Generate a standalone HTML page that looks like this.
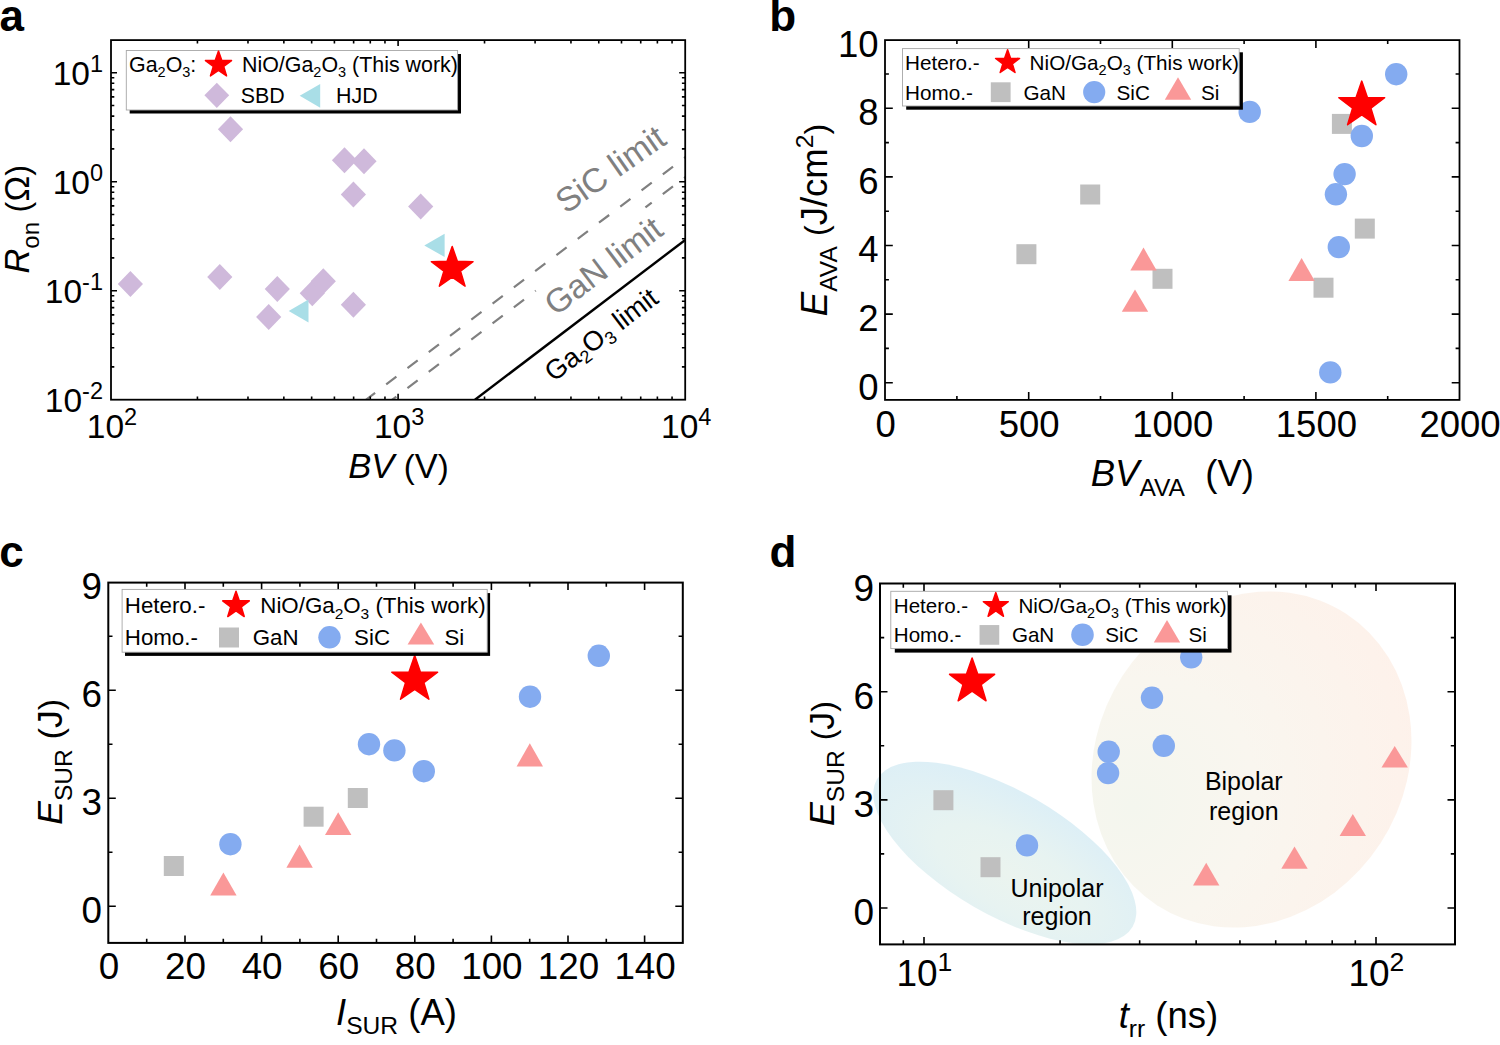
<!DOCTYPE html>
<html><head><meta charset="utf-8"><style>
html,body{margin:0;padding:0;background:#fff;width:1500px;height:1045px;overflow:hidden;}
svg{display:block;}
text{font-family:"Liberation Sans", sans-serif;}
</style></head><body>
<svg width="1500" height="1045" viewBox="0 0 1500 1045">
<rect width="1500" height="1045" fill="#fff"/>
<defs><clipPath id="cpa"><rect x="111" y="40.1" width="574.2" height="359.6"/></clipPath></defs>
<g clip-path="url(#cpa)">
<line x1="475" y1="399.7" x2="685.2" y2="240" stroke="#000" stroke-width="2.4"/>
<line x1="342.11" y1="417.84" x2="690.2" y2="153.47" stroke="#808080" stroke-width="2.2" stroke-dasharray="12.8 13.92" stroke-dashoffset="24.79"/>
<line x1="368.31" y1="417.84" x2="690.2" y2="173.37" stroke="#808080" stroke-width="2.2" stroke-dasharray="12.8 13.92" stroke-dashoffset="4.29"/>
</g>
<text x="566" y="214.5" font-size="34" text-anchor="start" fill="#808080" transform="rotate(-35 566 214.5)"><tspan>SiC&#160;limit</tspan></text>
<rect x="555.5" y="280.8" width="137.7" height="44" fill="#fff" transform="rotate(-37.2 555.5 316.8)"/>
<text x="555.5" y="316.8" font-size="33.5" text-anchor="start" fill="#808080" transform="rotate(-37.2 555.5 316.8)"><tspan>GaN&#160;limit</tspan></text>
<text x="553.5" y="382.5" font-size="27.3" text-anchor="start" fill="#000" transform="rotate(-37.2 553.5 382.5)"><tspan>Ga</tspan><tspan dy="5.2" font-size="18">2</tspan><tspan dy="-5.2">O</tspan><tspan dy="5.2" font-size="18">3</tspan><tspan dy="-5.2">&#160;limit</tspan></text>
<rect x="111" y="40.1" width="574.2" height="359.6" fill="none" stroke="#000" stroke-width="1.8"/>
<path d="M398.1 399.7v-6M398.1 40.1v6" stroke="#000" stroke-width="1.6" fill="none"/>
<path d="M197.43 399.7v-3.3M197.43 40.1v3.3M247.98 399.7v-3.3M247.98 40.1v3.3M283.85 399.7v-3.3M283.85 40.1v3.3M311.67 399.7v-3.3M311.67 40.1v3.3M334.41 399.7v-3.3M334.41 40.1v3.3M353.63 399.7v-3.3M353.63 40.1v3.3M370.28 399.7v-3.3M370.28 40.1v3.3M384.96 399.7v-3.3M384.96 40.1v3.3M484.53 399.7v-3.3M484.53 40.1v3.3M535.08 399.7v-3.3M535.08 40.1v3.3M570.95 399.7v-3.3M570.95 40.1v3.3M598.77 399.7v-3.3M598.77 40.1v3.3M621.51 399.7v-3.3M621.51 40.1v3.3M640.73 399.7v-3.3M640.73 40.1v3.3M657.38 399.7v-3.3M657.38 40.1v3.3M672.06 399.7v-3.3M672.06 40.1v3.3" stroke="#000" stroke-width="1.6" fill="none"/>
<path d="M111 290.7h6M685.2 290.7h-6M111 181.7h6M685.2 181.7h-6M111 72.7h6M685.2 72.7h-6" stroke="#000" stroke-width="1.6" fill="none"/>
<path d="M111 366.89h3.3M685.2 366.89h-3.3M111 347.69h3.3M685.2 347.69h-3.3M111 334.08h3.3M685.2 334.08h-3.3M111 323.51h3.3M685.2 323.51h-3.3M111 314.88h3.3M685.2 314.88h-3.3M111 307.58h3.3M685.2 307.58h-3.3M111 301.26h3.3M685.2 301.26h-3.3M111 295.69h3.3M685.2 295.69h-3.3M111 257.89h3.3M685.2 257.89h-3.3M111 238.69h3.3M685.2 238.69h-3.3M111 225.08h3.3M685.2 225.08h-3.3M111 214.51h3.3M685.2 214.51h-3.3M111 205.88h3.3M685.2 205.88h-3.3M111 198.58h3.3M685.2 198.58h-3.3M111 192.26h3.3M685.2 192.26h-3.3M111 186.69h3.3M685.2 186.69h-3.3M111 148.89h3.3M685.2 148.89h-3.3M111 129.69h3.3M685.2 129.69h-3.3M111 116.08h3.3M685.2 116.08h-3.3M111 105.51h3.3M685.2 105.51h-3.3M111 96.88h3.3M685.2 96.88h-3.3M111 89.58h3.3M685.2 89.58h-3.3M111 83.26h3.3M685.2 83.26h-3.3M111 77.69h3.3M685.2 77.69h-3.3" stroke="#000" stroke-width="1.6" fill="none"/>
<text x="112" y="438" font-size="33.5" text-anchor="middle" fill="#000"><tspan>10</tspan><tspan dy="-13.4" font-size="23.5">2</tspan></text>
<text x="399.1" y="438" font-size="33.5" text-anchor="middle" fill="#000"><tspan>10</tspan><tspan dy="-13.4" font-size="23.5">3</tspan></text>
<text x="686.2" y="438" font-size="33.5" text-anchor="middle" fill="#000"><tspan>10</tspan><tspan dy="-13.4" font-size="23.5">4</tspan></text>
<text x="103" y="412.1" font-size="33.5" text-anchor="end" fill="#000"><tspan>10</tspan><tspan dy="-13.4" font-size="23.5">-2</tspan></text>
<text x="103" y="303.1" font-size="33.5" text-anchor="end" fill="#000"><tspan>10</tspan><tspan dy="-13.4" font-size="23.5">-1</tspan></text>
<text x="103" y="194.1" font-size="33.5" text-anchor="end" fill="#000"><tspan>10</tspan><tspan dy="-13.4" font-size="23.5">0</tspan></text>
<text x="103" y="85.1" font-size="33.5" text-anchor="end" fill="#000"><tspan>10</tspan><tspan dy="-13.4" font-size="23.5">1</tspan></text>
<text x="398.5" y="477.8" font-size="34.5" text-anchor="middle" fill="#000"><tspan font-style="italic">BV</tspan><tspan>&#160;</tspan><tspan dy="0" font-size="33">(</tspan><tspan>V</tspan><tspan dy="0" font-size="33">)</tspan></text>
<text x="29.4" y="219.3" font-size="34.5" text-anchor="middle" fill="#000" transform="rotate(-90 29.4 219.3)"><tspan font-style="italic">R</tspan><tspan dy="9.4" font-size="24">on</tspan><tspan dy="-9.4">&#160;</tspan><tspan dy="0" font-size="32.4">(</tspan><tspan>Ω</tspan><tspan dy="0" font-size="32.4">)</tspan></text>
<polygon points="230.5,116.2 243.1,129.2 230.5,142.2 217.9,129.2" fill="#CFB9DB"/>
<polygon points="130.4,270.9 143,283.9 130.4,296.9 117.8,283.9" fill="#CFB9DB"/>
<polygon points="219.8,264.1 232.4,277.1 219.8,290.1 207.2,277.1" fill="#CFB9DB"/>
<polygon points="277.3,276 289.9,289 277.3,302 264.7,289" fill="#CFB9DB"/>
<polygon points="268.7,304.1 281.3,317.1 268.7,330.1 256.1,317.1" fill="#CFB9DB"/>
<polygon points="312.3,280.3 324.9,293.3 312.3,306.3 299.7,293.3" fill="#CFB9DB"/>
<polygon points="323.3,268.3 335.9,281.3 323.3,294.3 310.7,281.3" fill="#CFB9DB"/>
<polygon points="344.5,147.3 357.1,160.3 344.5,173.3 331.9,160.3" fill="#CFB9DB"/>
<polygon points="364,148.3 376.6,161.3 364,174.3 351.4,161.3" fill="#CFB9DB"/>
<polygon points="353.4,181.5 366,194.5 353.4,207.5 340.8,194.5" fill="#CFB9DB"/>
<polygon points="420.7,193.4 433.3,206.4 420.7,219.4 408.1,206.4" fill="#CFB9DB"/>
<polygon points="353.4,291.7 366,304.7 353.4,317.7 340.8,304.7" fill="#CFB9DB"/>
<polygon points="288.7,311 308.5,299.6 308.5,322.4" fill="#A9DEE7"/>
<polygon points="424.3,245.4 444.6,233.7 444.6,257" fill="#A9DEE7"/>
<polygon points="452.2,246.5 457.35,261.31 473.03,261.63 460.53,271.11 465.07,286.12 452.2,277.16 439.33,286.12 443.87,271.11 431.37,261.63 447.05,261.31" fill="#FF0000" stroke="#FF0000" stroke-width="1.5" stroke-linejoin="round"/>
<rect x="129.7" y="54" width="331.3" height="59.5" fill="#000"/>
<rect x="126.3" y="50.5" width="331.3" height="59.5" fill="#fff" stroke="#A6A6A6" stroke-width="0.9"/>
<text x="129" y="71.5" font-size="21.4" text-anchor="start" fill="#000"><tspan>Ga</tspan><tspan dy="5.5" font-size="14.5">2</tspan><tspan dy="-5.5">O</tspan><tspan dy="5.5" font-size="14.5">3</tspan><tspan dy="-5.5">:</tspan></text>
<polygon points="218.5,51.1 221.72,60.37 231.53,60.57 223.71,66.49 226.55,75.88 218.5,70.28 210.45,75.88 213.29,66.49 205.47,60.57 215.28,60.37" fill="#FF0000" stroke="#FF0000" stroke-width="1.5" stroke-linejoin="round"/>
<text x="242" y="71.5" font-size="21.4" text-anchor="start" fill="#000"><tspan>NiO/Ga</tspan><tspan dy="5.5" font-size="14.5">2</tspan><tspan dy="-5.5">O</tspan><tspan dy="5.5" font-size="14.5">3</tspan><tspan dy="-5.5">&#160;(This&#160;work)</tspan></text>
<polygon points="216.8,82.7 229.2,95.3 216.8,107.9 204.4,95.3" fill="#CFB9DB"/>
<text x="240.8" y="102.5" font-size="21.4" text-anchor="start" fill="#000"><tspan>SBD</tspan></text>
<polygon points="299.7,95.8 320.2,83.9 320.2,107.7" fill="#A9DEE7"/>
<text x="336" y="102.5" font-size="21.4" text-anchor="start" fill="#000"><tspan>HJD</tspan></text>
<rect x="885" y="40.1" width="574.5" height="359.8" fill="none" stroke="#000" stroke-width="1.8"/>
<path d="M1028.7 399.9v-7.8M1028.7 40.1v7.8M1172.3 399.9v-7.8M1172.3 40.1v7.8M1315.9 399.9v-7.8M1315.9 40.1v7.8" stroke="#000" stroke-width="1.6" fill="none"/>
<path d="M956.9 399.9v-3.9M956.9 40.1v3.9M1100.5 399.9v-3.9M1100.5 40.1v3.9M1244.1 399.9v-3.9M1244.1 40.1v3.9M1387.7 399.9v-3.9M1387.7 40.1v3.9" stroke="#000" stroke-width="1.6" fill="none"/>
<path d="M885 382.7h7.8M1459.5 382.7h-7.8M885 314.1h7.8M1459.5 314.1h-7.8M885 245.5h7.8M1459.5 245.5h-7.8M885 176.9h7.8M1459.5 176.9h-7.8M885 108.3h7.8M1459.5 108.3h-7.8" stroke="#000" stroke-width="1.6" fill="none"/>
<path d="M885 348.4h3.9M1459.5 348.4h-3.9M885 279.8h3.9M1459.5 279.8h-3.9M885 211.2h3.9M1459.5 211.2h-3.9M885 142.6h3.9M1459.5 142.6h-3.9M885 74h3.9M1459.5 74h-3.9" stroke="#000" stroke-width="1.6" fill="none"/>
<text x="885.6" y="436.7" font-size="36.5" text-anchor="middle" fill="#000"><tspan>0</tspan></text>
<text x="1029.2" y="436.7" font-size="36.5" text-anchor="middle" fill="#000"><tspan>500</tspan></text>
<text x="1172.8" y="436.7" font-size="36.5" text-anchor="middle" fill="#000"><tspan>1000</tspan></text>
<text x="1316.4" y="436.7" font-size="36.5" text-anchor="middle" fill="#000"><tspan>1500</tspan></text>
<text x="1460" y="436.7" font-size="36.5" text-anchor="middle" fill="#000"><tspan>2000</tspan></text>
<text x="878.5" y="399.5" font-size="36.5" text-anchor="end" fill="#000"><tspan>0</tspan></text>
<text x="878.5" y="330.9" font-size="36.5" text-anchor="end" fill="#000"><tspan>2</tspan></text>
<text x="878.5" y="262.3" font-size="36.5" text-anchor="end" fill="#000"><tspan>4</tspan></text>
<text x="878.5" y="193.7" font-size="36.5" text-anchor="end" fill="#000"><tspan>6</tspan></text>
<text x="878.5" y="125.1" font-size="36.5" text-anchor="end" fill="#000"><tspan>8</tspan></text>
<text x="878.5" y="56.5" font-size="36.5" text-anchor="end" fill="#000"><tspan>10</tspan></text>
<text x="1172.3" y="486" font-size="36.5" text-anchor="middle" fill="#000"><tspan font-style="italic">BV</tspan><tspan dy="9.7" font-size="24.6">AVA</tspan><tspan dy="-9.7">&#160;&#160;(V)</tspan></text>
<text x="826.8" y="220" font-size="36.5" text-anchor="middle" fill="#000" transform="rotate(-90 826.8 220)"><tspan font-style="italic">E</tspan><tspan dy="10" font-size="24.6">AVA</tspan><tspan dy="-10">&#160;</tspan><tspan dy="0" font-size="32.2">(</tspan><tspan>J/cm</tspan><tspan dy="-13.5" font-size="24.6">2</tspan><tspan dy="13.5" font-size="32.2">)</tspan></text>
<rect x="1080.2" y="184.5" width="20" height="20" fill="#BFBFBF"/>
<rect x="1016.4" y="244.2" width="20" height="20" fill="#BFBFBF"/>
<rect x="1152.5" y="268.8" width="20" height="20" fill="#BFBFBF"/>
<rect x="1331.9" y="113.9" width="20" height="20" fill="#BFBFBF"/>
<rect x="1354.8" y="218.6" width="20" height="20" fill="#BFBFBF"/>
<rect x="1313.5" y="277.7" width="20" height="20" fill="#BFBFBF"/>
<polygon points="1143.5,247.6 1130.3,270.6 1156.7,270.6" fill="#FA9898"/>
<polygon points="1135,289.4 1121.8,311.8 1148.2,311.8" fill="#FA9898"/>
<polygon points="1301.6,257.9 1288.4,280.9 1314.8,280.9" fill="#FA9898"/>
<circle cx="1249.7" cy="111.9" r="11.2" fill="#84ABF0"/>
<circle cx="1396.2" cy="74.2" r="11.2" fill="#84ABF0"/>
<circle cx="1361.8" cy="136" r="11.2" fill="#84ABF0"/>
<circle cx="1344.6" cy="174.1" r="11.2" fill="#84ABF0"/>
<circle cx="1335.9" cy="194.3" r="11.2" fill="#84ABF0"/>
<circle cx="1338.8" cy="247.1" r="11.2" fill="#84ABF0"/>
<circle cx="1330.3" cy="372.4" r="11.2" fill="#84ABF0"/>
<polygon points="1361.75,81.1 1367.42,97.4 1384.67,97.75 1370.92,108.18 1375.92,124.7 1361.75,114.84 1347.58,124.7 1352.58,108.18 1338.83,97.75 1356.08,97.4" fill="#FF0000" stroke="#FF0000" stroke-width="1.5" stroke-linejoin="round"/>
<rect x="906.2" y="52.3" width="336.7" height="57.4" fill="#000"/>
<rect x="902.5" y="48.6" width="336.7" height="57.4" fill="#fff" stroke="#A6A6A6" stroke-width="0.9"/>
<text x="905" y="69.9" font-size="20.7" text-anchor="start" fill="#000"><tspan>Hetero.-</tspan></text>
<polygon points="1007.6,49.7 1010.56,58.22 1019.58,58.41 1012.39,63.86 1015.01,72.49 1007.6,67.34 1000.19,72.49 1002.81,63.86 995.62,58.41 1004.64,58.22" fill="#FF0000" stroke="#FF0000" stroke-width="1.5" stroke-linejoin="round"/>
<text x="1029.6" y="69.9" font-size="20.7" text-anchor="start" fill="#000"><tspan>NiO/Ga</tspan><tspan dy="5.5" font-size="14.5">2</tspan><tspan dy="-5.5">O</tspan><tspan dy="5.5" font-size="14.5">3</tspan><tspan dy="-5.5">&#160;(This&#160;work)</tspan></text>
<text x="905" y="99.9" font-size="20.7" text-anchor="start" fill="#000"><tspan>Homo.-</tspan></text>
<rect x="990.8" y="82.3" width="19.8" height="19.8" fill="#BFBFBF"/>
<text x="1023.4" y="99.9" font-size="20.7" text-anchor="start" fill="#000"><tspan>GaN</tspan></text>
<circle cx="1094.2" cy="92.1" r="11.1" fill="#84ABF0"/>
<text x="1116.5" y="99.9" font-size="20.7" text-anchor="start" fill="#000"><tspan>SiC</tspan></text>
<polygon points="1178,77.2 1164.8,99.7 1191.2,99.7" fill="#FA9898"/>
<text x="1201" y="99.9" font-size="20.7" text-anchor="start" fill="#000"><tspan>Si</tspan></text>
<rect x="108.3" y="582.6" width="574.5" height="360.3" fill="none" stroke="#000" stroke-width="2"/>
<path d="M185 942.9v-7.5M185 582.6v7.5M261.6 942.9v-7.5M261.6 582.6v7.5M338.2 942.9v-7.5M338.2 582.6v7.5M414.8 942.9v-7.5M414.8 582.6v7.5M491.4 942.9v-7.5M491.4 582.6v7.5M568 942.9v-7.5M568 582.6v7.5M644.6 942.9v-7.5M644.6 582.6v7.5" stroke="#000" stroke-width="1.6" fill="none"/>
<path d="M146.7 942.9v-4.2M146.7 582.6v4.2M223.3 942.9v-4.2M223.3 582.6v4.2M299.9 942.9v-4.2M299.9 582.6v4.2M376.5 942.9v-4.2M376.5 582.6v4.2M453.1 942.9v-4.2M453.1 582.6v4.2M529.7 942.9v-4.2M529.7 582.6v4.2M606.3 942.9v-4.2M606.3 582.6v4.2" stroke="#000" stroke-width="1.6" fill="none"/>
<path d="M108.3 906.2h7.5M682.8 906.2h-7.5M108.3 798.2h7.5M682.8 798.2h-7.5M108.3 690.2h7.5M682.8 690.2h-7.5" stroke="#000" stroke-width="1.6" fill="none"/>
<path d="M108.3 852.2h4.2M682.8 852.2h-4.2M108.3 744.2h4.2M682.8 744.2h-4.2M108.3 636.2h4.2M682.8 636.2h-4.2" stroke="#000" stroke-width="1.6" fill="none"/>
<text x="108.9" y="978.5" font-size="36.8" text-anchor="middle" fill="#000"><tspan>0</tspan></text>
<text x="185.5" y="978.5" font-size="36.8" text-anchor="middle" fill="#000"><tspan>20</tspan></text>
<text x="262.1" y="978.5" font-size="36.8" text-anchor="middle" fill="#000"><tspan>40</tspan></text>
<text x="338.7" y="978.5" font-size="36.8" text-anchor="middle" fill="#000"><tspan>60</tspan></text>
<text x="415.3" y="978.5" font-size="36.8" text-anchor="middle" fill="#000"><tspan>80</tspan></text>
<text x="491.9" y="978.5" font-size="36.8" text-anchor="middle" fill="#000"><tspan>100</tspan></text>
<text x="568.5" y="978.5" font-size="36.8" text-anchor="middle" fill="#000"><tspan>120</tspan></text>
<text x="645.1" y="978.5" font-size="36.8" text-anchor="middle" fill="#000"><tspan>140</tspan></text>
<text x="102" y="922.9" font-size="36.8" text-anchor="end" fill="#000"><tspan>0</tspan></text>
<text x="102" y="814.9" font-size="36.8" text-anchor="end" fill="#000"><tspan>3</tspan></text>
<text x="102" y="706.9" font-size="36.8" text-anchor="end" fill="#000"><tspan>6</tspan></text>
<text x="102" y="598.9" font-size="36.8" text-anchor="end" fill="#000"><tspan>9</tspan></text>
<text x="396.5" y="1024.8" font-size="36.5" text-anchor="middle" fill="#000"><tspan font-style="italic">I</tspan><tspan dy="9.4" font-size="24.6">SUR</tspan><tspan dy="-9.4">&#160;(A)</tspan></text>
<text x="62.3" y="761.8" font-size="35.6" text-anchor="middle" fill="#000" transform="rotate(-90 62.3 761.8)"><tspan font-style="italic">E</tspan><tspan dy="9.4" font-size="24.6">SUR</tspan><tspan dy="-9.4">&#160;</tspan><tspan dy="0" font-size="34">(</tspan><tspan>J</tspan><tspan dy="0" font-size="34">)</tspan></text>
<rect x="163.8" y="856" width="20" height="20" fill="#BFBFBF"/>
<rect x="303.6" y="806.7" width="20" height="20" fill="#BFBFBF"/>
<rect x="347.8" y="788" width="20" height="20" fill="#BFBFBF"/>
<polygon points="223.4,872.4 210.2,895.4 236.6,895.4" fill="#FA9898"/>
<polygon points="299.6,844.6 286.4,867.8 312.8,867.8" fill="#FA9898"/>
<polygon points="338.2,812.2 325,835 351.4,835" fill="#FA9898"/>
<polygon points="529.8,743.2 516.6,766.4 543,766.4" fill="#FA9898"/>
<circle cx="230.4" cy="844.2" r="11.2" fill="#84ABF0"/>
<circle cx="369" cy="744.2" r="11.2" fill="#84ABF0"/>
<circle cx="394.4" cy="750.4" r="11.2" fill="#84ABF0"/>
<circle cx="423.8" cy="771.2" r="11.2" fill="#84ABF0"/>
<circle cx="530" cy="696.7" r="11.2" fill="#84ABF0"/>
<circle cx="598.8" cy="655.8" r="11.2" fill="#84ABF0"/>
<polygon points="414.7,655.6 420.37,671.9 437.62,672.25 423.87,682.68 428.87,699.2 414.7,689.34 400.53,699.2 405.53,682.68 391.78,672.25 409.03,671.9" fill="#FF0000" stroke="#FF0000" stroke-width="1.5" stroke-linejoin="round"/>
<rect x="125" y="593.1" width="365.1" height="62.8" fill="#000"/>
<rect x="122.1" y="589.4" width="365.1" height="62.8" fill="#fff" stroke="#A6A6A6" stroke-width="0.9"/>
<text x="124.8" y="612.9" font-size="22.3" text-anchor="start" fill="#000"><tspan>Hetero.-</tspan></text>
<polygon points="236,591.2 239.29,600.67 249.31,600.87 241.33,606.93 244.23,616.53 236,610.8 227.77,616.53 230.67,606.93 222.69,600.87 232.71,600.67" fill="#FF0000" stroke="#FF0000" stroke-width="1.5" stroke-linejoin="round"/>
<text x="260.3" y="612.9" font-size="22.3" text-anchor="start" fill="#000"><tspan>NiO/Ga</tspan><tspan dy="6" font-size="15.5">2</tspan><tspan dy="-6">O</tspan><tspan dy="6" font-size="15.5">3</tspan><tspan dy="-6">&#160;(This&#160;work)</tspan></text>
<text x="124.8" y="644.7" font-size="22.3" text-anchor="start" fill="#000"><tspan>Homo.-</tspan></text>
<rect x="219" y="627.5" width="20" height="20" fill="#BFBFBF"/>
<text x="252.7" y="644.7" font-size="22.3" text-anchor="start" fill="#000"><tspan>GaN</tspan></text>
<circle cx="329.5" cy="637.3" r="11.2" fill="#84ABF0"/>
<text x="354.1" y="644.7" font-size="22.3" text-anchor="start" fill="#000"><tspan>SiC</tspan></text>
<polygon points="420.9,622.6 407.6,644.6 434.2,644.6" fill="#FA9898"/>
<text x="444.5" y="644.7" font-size="22.3" text-anchor="start" fill="#000"><tspan>Si</tspan></text>
<defs><radialGradient id="gu" cx="0.553" cy="0.633" r="0.62"><stop offset="0" stop-color="#EBF4EF"/><stop offset="0.45" stop-color="#E7F3F1"/><stop offset="1" stop-color="#DDEFF6"/></radialGradient><radialGradient id="gb" cx="0.26" cy="0.80" r="0.95"><stop offset="0" stop-color="#F4F6EE"/><stop offset="0.4" stop-color="#F9F6EF"/><stop offset="1" stop-color="#FEF1EA"/></radialGradient></defs>
<ellipse cx="1004.8" cy="853" rx="147.6" ry="62" transform="rotate(30 1004.8 853)" fill="url(#gu)"/>
<ellipse cx="1251.5" cy="759.5" rx="153.8" ry="173.7" transform="rotate(33 1251.5 759.5)" fill="url(#gb)"/>
<rect x="880" y="583.5" width="575" height="360.9" fill="none" stroke="#000" stroke-width="2"/>
<path d="M924 944.4v-7.5M924 583.5v7.5M1376 944.4v-7.5M1376 583.5v7.5" stroke="#000" stroke-width="1.6" fill="none"/>
<path d="M903.32 944.4v-4.2M903.32 583.5v4.2M1060.07 944.4v-4.2M1060.07 583.5v4.2M1139.66 944.4v-4.2M1139.66 583.5v4.2M1196.13 944.4v-4.2M1196.13 583.5v4.2M1239.93 944.4v-4.2M1239.93 583.5v4.2M1275.72 944.4v-4.2M1275.72 583.5v4.2M1305.98 944.4v-4.2M1305.98 583.5v4.2M1332.2 944.4v-4.2M1332.2 583.5v4.2M1355.32 944.4v-4.2M1355.32 583.5v4.2" stroke="#000" stroke-width="1.6" fill="none"/>
<path d="M880 908h7.5M1455 908h-7.5M880 799.85h7.5M1455 799.85h-7.5M880 691.7h7.5M1455 691.7h-7.5" stroke="#000" stroke-width="1.6" fill="none"/>
<path d="M880 853.92h4.2M1455 853.92h-4.2M880 745.77h4.2M1455 745.77h-4.2M880 637.62h4.2M1455 637.62h-4.2" stroke="#000" stroke-width="1.6" fill="none"/>
<text x="924.4" y="986" font-size="37" text-anchor="middle" fill="#000"><tspan>10</tspan><tspan dy="-15.2" font-size="26.5">1</tspan></text>
<text x="1376.4" y="986" font-size="37" text-anchor="middle" fill="#000"><tspan>10</tspan><tspan dy="-15.2" font-size="26.5">2</tspan></text>
<text x="874" y="925" font-size="37" text-anchor="end" fill="#000"><tspan>0</tspan></text>
<text x="874" y="816.85" font-size="37" text-anchor="end" fill="#000"><tspan>3</tspan></text>
<text x="874" y="708.7" font-size="37" text-anchor="end" fill="#000"><tspan>6</tspan></text>
<text x="874" y="600.55" font-size="37" text-anchor="end" fill="#000"><tspan>9</tspan></text>
<text x="1168.4" y="1027.8" font-size="36.5" text-anchor="middle" fill="#000"><tspan font-style="italic">t</tspan><tspan dy="8.9" font-size="24.6">rr</tspan><tspan dy="-8.9">&#160;(ns)</tspan></text>
<text x="834.5" y="763.6" font-size="35.8" text-anchor="middle" fill="#000" transform="rotate(-90 834.5 763.6)"><tspan font-style="italic">E</tspan><tspan dy="9.4" font-size="24.6">SUR</tspan><tspan dy="-9.4">&#160;</tspan><tspan dy="0" font-size="32">(</tspan><tspan>J</tspan><tspan dy="0" font-size="32">)</tspan></text>
<text x="1057" y="896.8" font-size="25" text-anchor="middle" fill="#000"><tspan>Unipolar</tspan></text>
<text x="1057" y="925" font-size="25" text-anchor="middle" fill="#000"><tspan>region</tspan></text>
<text x="1243.8" y="789.5" font-size="25" text-anchor="middle" fill="#000"><tspan>Bipolar</tspan></text>
<text x="1243.8" y="819.5" font-size="25" text-anchor="middle" fill="#000"><tspan>region</tspan></text>
<rect x="933.4" y="790.2" width="20" height="20" fill="#BFBFBF"/>
<rect x="980.5" y="857.2" width="20" height="20" fill="#BFBFBF"/>
<polygon points="1394.7,745.9 1381.5,767.5 1407.9,767.5" fill="#FA9898"/>
<polygon points="1352.8,813.9 1339.6,835.9 1366,835.9" fill="#FA9898"/>
<polygon points="1294.5,846.4 1281.3,868.8 1307.7,868.8" fill="#FA9898"/>
<polygon points="1206.2,862.8 1193,885.5 1219.4,885.5" fill="#FA9898"/>
<circle cx="1027" cy="845.4" r="11.2" fill="#84ABF0"/>
<circle cx="1108.7" cy="751.8" r="11.2" fill="#84ABF0"/>
<circle cx="1108.1" cy="773.1" r="11.2" fill="#84ABF0"/>
<circle cx="1152" cy="697.8" r="11.2" fill="#84ABF0"/>
<circle cx="1163.8" cy="745.8" r="11.2" fill="#84ABF0"/>
<circle cx="1191.2" cy="657.3" r="11.2" fill="#84ABF0"/>
<polygon points="972.1,657.9 977.67,673.93 994.64,674.28 981.12,684.53 986.03,700.77 972.1,691.08 958.17,700.77 963.08,684.53 949.56,674.28 966.53,673.93" fill="#FF0000" stroke="#FF0000" stroke-width="1.5" stroke-linejoin="round"/>
<rect x="894.8" y="595.3" width="336.7" height="57.3" fill="#000"/>
<rect x="890.8" y="591.3" width="336.7" height="57.3" fill="#fff" stroke="#A6A6A6" stroke-width="0.9"/>
<text x="893.8" y="612.8" font-size="20.6" text-anchor="start" fill="#000"><tspan>Hetero.-</tspan></text>
<polygon points="995.8,592.6 998.88,601.46 1008.26,601.65 1000.78,607.32 1003.5,616.3 995.8,610.94 988.1,616.3 990.82,607.32 983.34,601.65 992.72,601.46" fill="#FF0000" stroke="#FF0000" stroke-width="1.5" stroke-linejoin="round"/>
<text x="1018.4" y="612.8" font-size="20.6" text-anchor="start" fill="#000"><tspan>NiO/Ga</tspan><tspan dy="5.5" font-size="14.3">2</tspan><tspan dy="-5.5">O</tspan><tspan dy="5.5" font-size="14.3">3</tspan><tspan dy="-5.5">&#160;(This&#160;work)</tspan></text>
<text x="893.8" y="642.1" font-size="20.6" text-anchor="start" fill="#000"><tspan>Homo.-</tspan></text>
<rect x="979.55" y="625.05" width="19.7" height="19.7" fill="#BFBFBF"/>
<text x="1011.9" y="642.1" font-size="20.6" text-anchor="start" fill="#000"><tspan>GaN</tspan></text>
<circle cx="1082.5" cy="634.8" r="11.3" fill="#84ABF0"/>
<text x="1105.2" y="642.1" font-size="20.6" text-anchor="start" fill="#000"><tspan>SiC</tspan></text>
<polygon points="1167,620 1153.8,642.4 1180.2,642.4" fill="#FA9898"/>
<text x="1188.5" y="642.1" font-size="20.6" text-anchor="start" fill="#000"><tspan>Si</tspan></text>
<text x="-0.5" y="31.3" font-size="44" font-weight="bold">a</text>
<text x="769.3" y="31.3" font-size="44" font-weight="bold">b</text>
<text x="-0.8" y="566.8" font-size="44" font-weight="bold">c</text>
<text x="769.4" y="566.5" font-size="44" font-weight="bold">d</text>
</svg>
</body></html>
